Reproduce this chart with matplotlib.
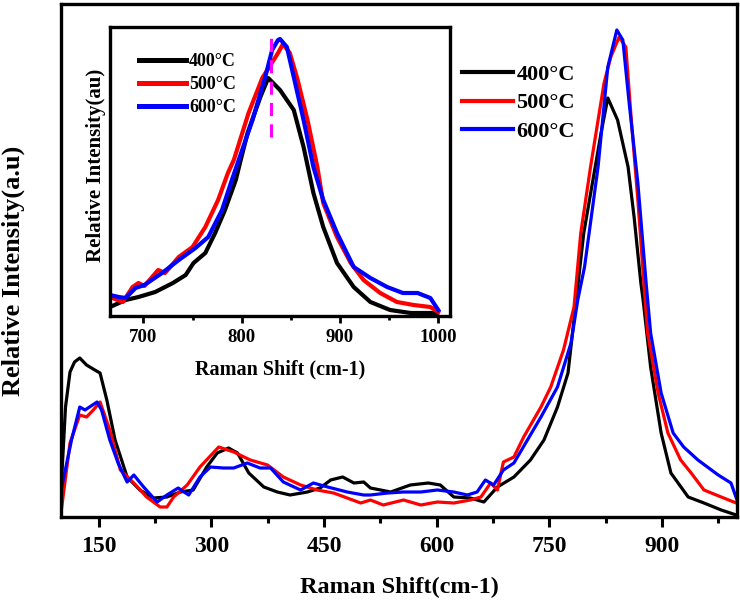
import matplotlib
matplotlib.use("Agg")
import matplotlib.pyplot as plt
from matplotlib.ticker import MultipleLocator, FixedLocator

plt.rcParams['font.family'] = ['Liberation Serif', 'DejaVu Serif']
plt.rcParams['font.weight'] = 'bold'

# ---------------- main spectrum data ----------------
labels = ["400°C", "500°C", "600°C"]
colors = ["#000000", "#ff0000", "#0000ff"]

x400 = [101, 106, 112, 118, 125, 134, 145, 152, 161, 172, 188, 205, 223, 241, 259, 276, 294, 308, 323, 335, 350, 370, 388,
        405, 428, 445, 459, 475, 490, 503, 512, 539, 565, 589, 605, 623, 645, 663, 681, 703, 725, 743, 761, 775, 796,
        819, 828, 841, 855, 863, 872, 875, 885, 899, 912, 935, 956, 979, 999]
y400 = [40, 110, 145, 155, 159, 152, 147, 144, 117, 77, 40, 27, 19, 20, 25, 27, 50, 64, 69, 64, 44, 30, 25,
        22, 25, 29, 37, 40, 34, 35, 29, 25, 32, 34, 32, 20, 19, 15, 30, 40, 57, 77, 110, 144, 284,
        384, 419, 397, 350, 300, 234, 217, 150, 84, 44, 20, 14, 7, 2]

x500 = [101, 112, 125, 134, 143, 152, 165, 179, 197, 214, 232, 241, 250, 268, 285, 310, 330, 352, 375, 396, 419, 441,
        463, 481, 499, 512, 529, 556, 579, 601, 623, 645, 659, 672, 681, 689, 703, 716, 739, 752, 769, 783, 792,
        805, 823, 832, 843, 852, 859, 868, 876, 881, 895, 908, 925, 939, 956, 979, 999]
y500 = [10, 74, 102, 100, 107, 115, 87, 47, 34, 20, 10, 10, 20, 32, 50, 70, 65, 57, 52, 40, 32, 27,
        24, 19, 14, 17, 12, 17, 12, 15, 14, 17, 20, 34, 27, 55, 60, 80, 110, 130, 167, 210, 284,
        350, 434, 460, 480, 470, 400, 317, 234, 184, 124, 84, 57, 44, 27, 20, 14]

x600 = [101, 114, 125, 132, 148, 154, 165, 176, 188, 197, 210, 228, 241, 256, 270, 285, 299, 316, 330, 348, 365, 379,
        396, 419, 436, 455, 481, 503, 512, 535, 556, 579, 601, 623, 641, 654, 665, 676, 689, 703, 721, 739, 761,
        779, 788, 797, 815, 828, 840, 848, 856, 868, 879, 885, 899, 915, 929, 948, 975, 992, 1000]
y600 = [30, 77, 110, 107, 115, 107, 77, 54, 35, 42, 30, 15, 22, 29, 22, 40, 50, 49, 49, 54, 49, 49,
        35, 27, 34, 30, 25, 22, 22, 24, 25, 25, 27, 25, 22, 25, 37, 32, 47, 54, 77, 100, 130,
        174, 217, 250, 350, 450, 487, 477, 417, 334, 234, 184, 124, 84, 70, 57, 42, 34, 17]

main_x = [x400, x500, x600]
main_y = [y400, y500, y600]

# ---------------- inset data ----------------
ix400 = [666, 682, 695, 712, 730, 743, 751, 763, 773, 783, 794, 799, 806, 819, 827, 839, 853, 863, 873, 883, 897,
         914, 931, 951, 972, 999]
iy400 = [9, 16, 19, 24, 33, 41, 53, 63, 83, 106, 136, 156, 183, 219, 238, 226, 206, 169, 123, 89, 53,
         29, 14, 6, 3, 3]

ix500 = [666, 679, 689, 695, 701, 715, 722, 736, 750, 763, 776, 786, 792, 807, 821, 837, 842, 849, 857, 867, 877,
         883, 897, 911, 924, 941, 958, 975, 992, 1000]
iy500 = [19, 14, 29, 33, 30, 46, 43, 59, 69, 89, 116, 143, 156, 203, 238, 263, 272, 263, 236, 196, 149,
         113, 79, 53, 36, 23, 14, 11, 9, 4]

ix600 = [666, 675, 682, 692, 701, 719, 736, 753, 766, 780, 790, 797, 811, 824, 831, 837, 839, 846, 853, 863, 873,
         883, 897, 914, 931, 948, 964, 979, 992, 1000]
iy600 = [21, 19, 18, 28, 31, 43, 56, 68, 79, 106, 136, 156, 196, 239, 266, 276, 277, 269, 239, 196, 149,
         116, 83, 49, 38, 29, 23, 23, 18, 6]

inset_x = [ix400, ix500, ix600]
inset_y = [iy400, iy500, iy600]

peak_marker_x = 830
peak_marker_y = [179, 285]

main_xticks = [150, 300, 450, 600, 750, 900]
inset_xticks = [700, 800, 900, 1000]

W, H = 740, 601
fig = plt.figure(figsize=(W / 100, H / 100), dpi=100)

# main axes
ax = fig.add_axes([61 / W, (H - 517) / H, (737 - 61) / W, (517 - 4) / H])
for xs, ys, c, lab in zip(main_x, main_y, colors, labels):
    ax.plot(xs, ys, color=c, lw=2.3, label=lab, solid_joinstyle='round')
ax.set_xlim(100, 1000)
ax.set_ylim(0, 513)
ax.set_yticks([])
ax.xaxis.set_major_locator(FixedLocator(main_xticks))
ax.xaxis.set_minor_locator(MultipleLocator(75))
ax.tick_params(axis='x', which='major', direction='out', length=7, width=2.2, labelsize=17, pad=7)
ax.tick_params(axis='x', which='minor', direction='out', length=4, width=2.2)
for lbl in ax.get_xticklabels():
    lbl.set_fontweight('bold')
for s in ax.spines.values():
    s.set_linewidth(2.4)
ax.set_xlabel("Raman Shift(cm-1)", fontsize=17.5, fontweight='bold', labelpad=14)
ax.set_ylabel("Relative Intensity(a.u)", fontsize=19, fontweight='bold')
ax.yaxis.set_label_coords(-0.053, 0.48)
leg = ax.legend(loc='upper left', bbox_to_anchor=(0.58, 0.90), frameon=False,
                prop={'family': 'Liberation Serif', 'weight': 'bold', 'size': 16},
                handlelength=2.3, handletextpad=0.15, labelspacing=0.36, borderaxespad=0)
for h in leg.get_lines():
    h.set_linewidth(3.0)

# inset axes
ia = fig.add_axes([110 / W, (H - 316) / H, (450 - 110) / W, (316 - 27) / H])
for xs, ys, c, lab in zip(inset_x, inset_y, colors, labels):
    ia.plot(xs, ys, color=c, lw=3.0, label=lab, solid_joinstyle='round')
ia.plot([peak_marker_x, peak_marker_x], peak_marker_y, color='#ff00ff', lw=2.2,
        linestyle=(0, (4.3, 2.7)))
ia.set_xlim(666, 1012)
ia.set_ylim(0, 289)
ia.set_yticks([])
ia.xaxis.set_major_locator(FixedLocator(inset_xticks))
ia.xaxis.set_minor_locator(MultipleLocator(50))
ia.tick_params(axis='x', which='major', direction='out', length=5, width=2.0, labelsize=13.5, pad=4)
ia.tick_params(axis='x', which='minor', direction='out', length=3, width=2.0)
for lbl in ia.get_xticklabels():
    lbl.set_fontweight('bold')
for s in ia.spines.values():
    s.set_linewidth(2.4)
ia.set_xlabel("Raman Shift (cm-1)", fontsize=14.5, fontweight='bold', labelpad=10)
ia.set_ylabel("Relative Intensity(au)", fontsize=15, fontweight='bold')
ia.yaxis.set_label_coords(-0.012, 0.52)
ileg = ia.legend(loc='upper left', bbox_to_anchor=(0.065, 0.935), frameon=False,
                 prop={'family': 'Liberation Serif', 'weight': 'bold', 'size': 13},
                 handlelength=2.6, handletextpad=0.15, labelspacing=0.34, borderaxespad=0)
for h in ileg.get_lines():
    h.set_linewidth(3.6)

fig.savefig("out.png", dpi=100)
